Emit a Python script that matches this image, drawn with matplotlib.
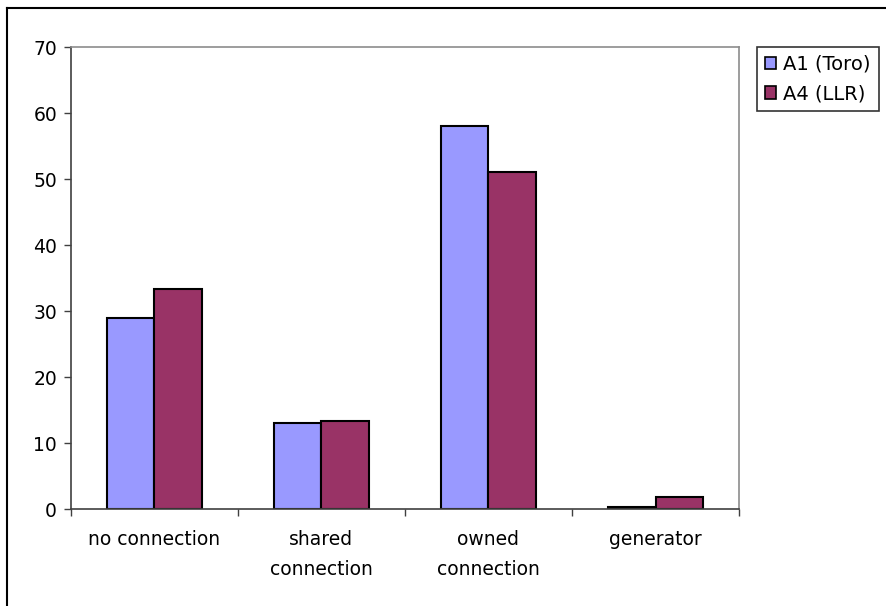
import numpy as np
import matplotlib.pyplot as plt
from matplotlib.lines import Line2D
from matplotlib.patches import Patch

categories = ["no connection", "shared\nconnection", "owned\nconnection", "generator"]
series_names = ["A1 (Toro)", "A4 (LLR)"]
a1_toro = [28.9, 13.1, 58.1, 0.3]
a4_llr = [33.4, 13.4, 51.1, 1.8]

blue = "#9999FF"
plum = "#993366"

fig = plt.figure(figsize=(8.86, 6.06), dpi=100)
ax = fig.add_axes([0.0801, 0.160, 0.754, 0.7624])

x = np.arange(len(categories))
w = 1 / 3.5
ax.bar(x - w / 2, a1_toro, w, color=blue, edgecolor="black", linewidth=1.5, label=series_names[0])
ax.bar(x + w / 2, a4_llr, w, color=plum, edgecolor="black", linewidth=1.5, label=series_names[1])

ax.set_xlim(-0.5, len(categories) - 0.5)
ax.set_ylim(0, 70)
ax.set_yticks(range(0, 71, 10))
ax.tick_params(axis="y", direction="out", length=5, width=1, color="#404040",
               labelsize=13.5, pad=5)

# category labels centred, tick marks at the category boundaries
ax.set_xticks(x)
ax.set_xticklabels(categories, fontsize=13.5, linespacing=1.75, va="top")
ax.tick_params(axis="x", which="major", length=0, pad=15)
ax.set_xticks(np.arange(-0.5, len(categories)), minor=True)
ax.tick_params(axis="x", which="minor", direction="out", length=5, width=1, color="#404040")

for side in ["left", "bottom"]:
    ax.spines[side].set_color("#404040")
    ax.spines[side].set_linewidth(1.2)
for side in ["top", "right"]:
    ax.spines[side].set_color("#8c8c8c")
    ax.spines[side].set_linewidth(1.2)

handles = [Patch(facecolor=blue, edgecolor="black", linewidth=1.2),
           Patch(facecolor=plum, edgecolor="black", linewidth=1.2)]
leg = ax.legend(handles, series_names, loc="upper left",
                bbox_to_anchor=(757 / 886, 1 - 47 / 606), bbox_transform=fig.transFigure,
                fontsize=14, frameon=True, fancybox=False, shadow=False,
                handlelength=0.6, handleheight=0.6, handletextpad=0.35,
                borderpad=0.4, labelspacing=0.55, borderaxespad=0)
leg.get_frame().set_edgecolor("black")
leg.get_frame().set_linewidth(1.2)

# chart area border (left and top edges)
fig.add_artist(Line2D([7 / 886, 7 / 886], [0, 1 - 8 / 606], transform=fig.transFigure,
                      color="black", linewidth=1.5))
fig.add_artist(Line2D([7 / 886, 1], [1 - 8 / 606, 1 - 8 / 606], transform=fig.transFigure,
                      color="black", linewidth=1.5))

fig.savefig("out.png", dpi=100)
